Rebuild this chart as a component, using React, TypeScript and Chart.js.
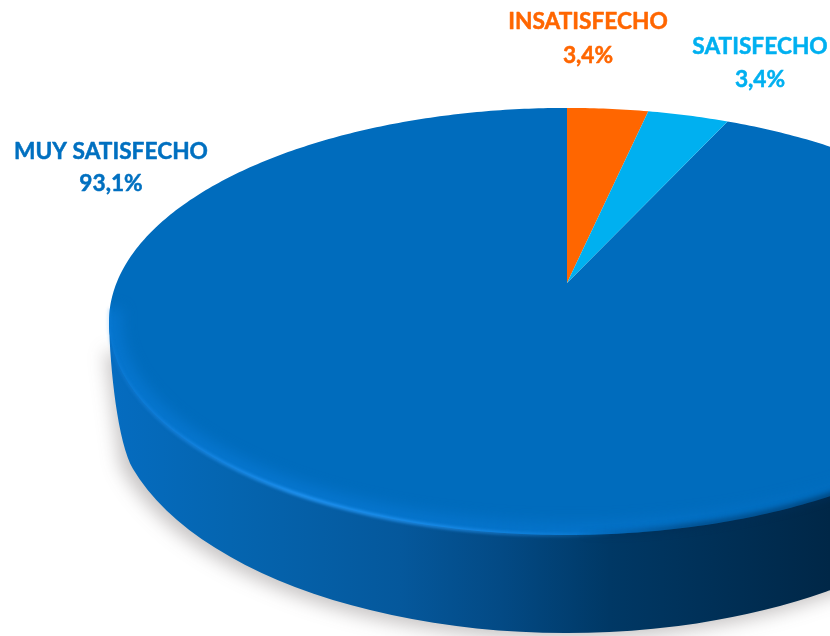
import React, { useEffect, useRef } from "react";
import { Chart, registerables } from "chart.js";

Chart.register(...registerables);

const categories = ["INSATISFECHO", "SATISFECHO", "MUY SATISFECHO"];
const percentages = [3.4, 3.4, 93.1];
const percentLabels = ["3,4%", "3,4%", "93,1%"];
const sliceColors = ["#FF6600", "#00B0F0", "#006CBD"];
const labelColors = ["#FF6600", "#00B0F0", "#0070C0"];
const labelCenters = [[588, 29, 63], [760, 54, 87], [111, 159, 191]];

// Perspective of the disc: the pie's unit circle is projected with these.
const APEX_X = 567, APEX_Y = 283, PX = 450.5, PY = 206.6, PK = 0.18;
// The visible ellipses of the tilted cylinder.
const RIM = { x: 567, y: 321.5, rx: 458, ry: 213.5 };
const BASE = { x: 567, y: 403, rx: 453, ry: 230 };

const project = (a: number) => {
  const ux = Math.cos(a), uy = Math.sin(a);
  const d = 1 - PK * uy;
  return [APEX_X + (PX * ux) / d, APEX_Y + (PY * uy) / d];
};

const gradient = (ctx: CanvasRenderingContext2D, stops: [number, string][]) => {
  const g = ctx.createLinearGradient(0, 0, 830, 0);
  stops.forEach(([x, c]) => g.addColorStop(x / 830, c));
  return g;
};

const rimFront = (ctx: CanvasRenderingContext2D) => {
  ctx.beginPath();
  ctx.ellipse(RIM.x, RIM.y, RIM.rx, RIM.ry, 0, Math.PI * 1.02, -0.02 * Math.PI, true);
};

const pie3d = {
  id: "pie3d",
  beforeDatasetDraw(chart: any) {
    const ctx: CanvasRenderingContext2D = chart.ctx;
    ctx.save();

    // soft ground shadow
    ctx.save();
    ctx.filter = "blur(9px)";
    ctx.fillStyle = "rgba(70,60,60,0.30)";
    ctx.beginPath();
    ctx.moveTo(RIM.x - RIM.rx - 4, RIM.y + 30);
    ctx.ellipse(BASE.x - 4, BASE.y + 5, BASE.rx + 4, BASE.ry + 1, 0, Math.PI - 0.25, 0.2, true);
    ctx.closePath();
    ctx.fill();
    ctx.restore();

    // side wall
    ctx.fillStyle = gradient(ctx, [
      [110, "#056CC0"],
      [230, "#0565B0"],
      [400, "#05589C"],
      [500, "#034A85"],
      [610, "#003865"],
      [830, "#002747"],
    ]);
    const t = Math.PI - 0.29;
    ctx.beginPath();
    ctx.moveTo(RIM.x - RIM.rx, RIM.y);
    ctx.bezierCurveTo(
      110,
      370,
      118,
      443,
      BASE.x + BASE.rx * Math.cos(t),
      BASE.y + BASE.ry * Math.sin(t)
    );
    ctx.ellipse(BASE.x, BASE.y, BASE.rx, BASE.ry, 0, t, 0, true);
    ctx.lineTo(RIM.x + RIM.rx, RIM.y);
    ctx.closePath();
    ctx.fill();

    // top face, from the arcs the library computed
    const arcs = chart.getDatasetMeta(0).data;
    const colors = chart.data.datasets[0].backgroundColor;
    const order = [2, 0, 1];
    order.forEach((i) => {
      const { startAngle, endAngle } = arcs[i].getProps(["startAngle", "endAngle"], true);
      ctx.beginPath();
      ctx.moveTo(APEX_X, APEX_Y);
      const steps = Math.max(8, Math.ceil((endAngle - startAngle) * 80));
      for (let s = 0; s <= steps; s++) {
        const [x, y] = project(startAngle + ((endAngle - startAngle) * s) / steps);
        ctx.lineTo(x, y);
      }
      ctx.closePath();
      ctx.fillStyle = colors[i];
      ctx.fill();
    });

    // bevel of the top face
    ctx.save();
    ctx.beginPath();
    ctx.ellipse(RIM.x, RIM.y, RIM.rx, RIM.ry, 0, 0, Math.PI * 2);
    ctx.clip();
    ctx.filter = "blur(7px)";
    ctx.lineWidth = 26;
    ctx.strokeStyle = gradient(ctx, [
      [105, "rgba(10,125,220,0.55)"],
      [350, "rgba(10,125,220,0.55)"],
      [650, "rgba(10,125,220,0.35)"],
      [830, "rgba(10,125,220,0.10)"],
    ]);
    rimFront(ctx);
    ctx.stroke();
    ctx.restore();

    ctx.save();
    ctx.filter = "blur(1.6px)";
    ctx.lineWidth = 3.5;
    ctx.strokeStyle = gradient(ctx, [
      [105, "rgba(30,140,235,0.15)"],
      [170, "rgba(30,140,235,0.55)"],
      [300, "rgba(35,150,245,1)"],
      [450, "rgba(35,150,245,0.7)"],
      [560, "rgba(35,150,245,0.3)"],
      [620, "rgba(35,150,245,0)"],
      [830, "rgba(35,150,245,0)"],
    ]);
    rimFront(ctx);
    ctx.stroke();
    ctx.filter = "blur(3px)";
    ctx.lineWidth = 5;
    ctx.strokeStyle = gradient(ctx, [
      [580, "rgba(0,45,85,0)"],
      [680, "rgba(0,45,85,0.7)"],
      [830, "rgba(0,45,85,0.9)"],
    ]);
    rimFront(ctx);
    ctx.stroke();
    ctx.restore();

    ctx.restore();
    return false;
  },
  afterDraw(chart: any) {
    const ctx: CanvasRenderingContext2D = chart.ctx;
    ctx.save();
    ctx.font = 'bold 22.7px Lato, "Open Sans", sans-serif';
    ctx.textAlign = "center";
    ctx.textBaseline = "alphabetic";
    ctx.lineWidth = 0.5;
    ctx.lineJoin = "round";
    categories.forEach((name, i) => {
      const [x, y1, y2] = labelCenters[i];
      ctx.fillStyle = labelColors[i];
      ctx.strokeStyle = labelColors[i];
      ctx.fillText(name, x, y1);
      ctx.strokeText(name, x, y1);
      ctx.fillText(percentLabels[i], x, y2);
      ctx.strokeText(percentLabels[i], x, y2);
    });
    ctx.restore();
  },
};

export default function App() {
  const ref = useRef<HTMLCanvasElement>(null);
  useEffect(() => {
    const chart = new Chart(ref.current!, {
      type: "pie",
      data: {
        labels: categories,
        datasets: [{ data: percentages, backgroundColor: sliceColors, borderWidth: 0 }],
      },
      options: {
        animation: false,
        responsive: false,
        plugins: { legend: { display: false }, tooltip: { enabled: false } },
      },
      plugins: [pie3d],
    } as any);
    return () => chart.destroy();
  }, []);
  return (
    <canvas
      ref={ref}
      width={830}
      height={636}
      style={{ position: "fixed", left: 0, top: 0, display: "block", background: "#fff" }}
    />
  );
}
